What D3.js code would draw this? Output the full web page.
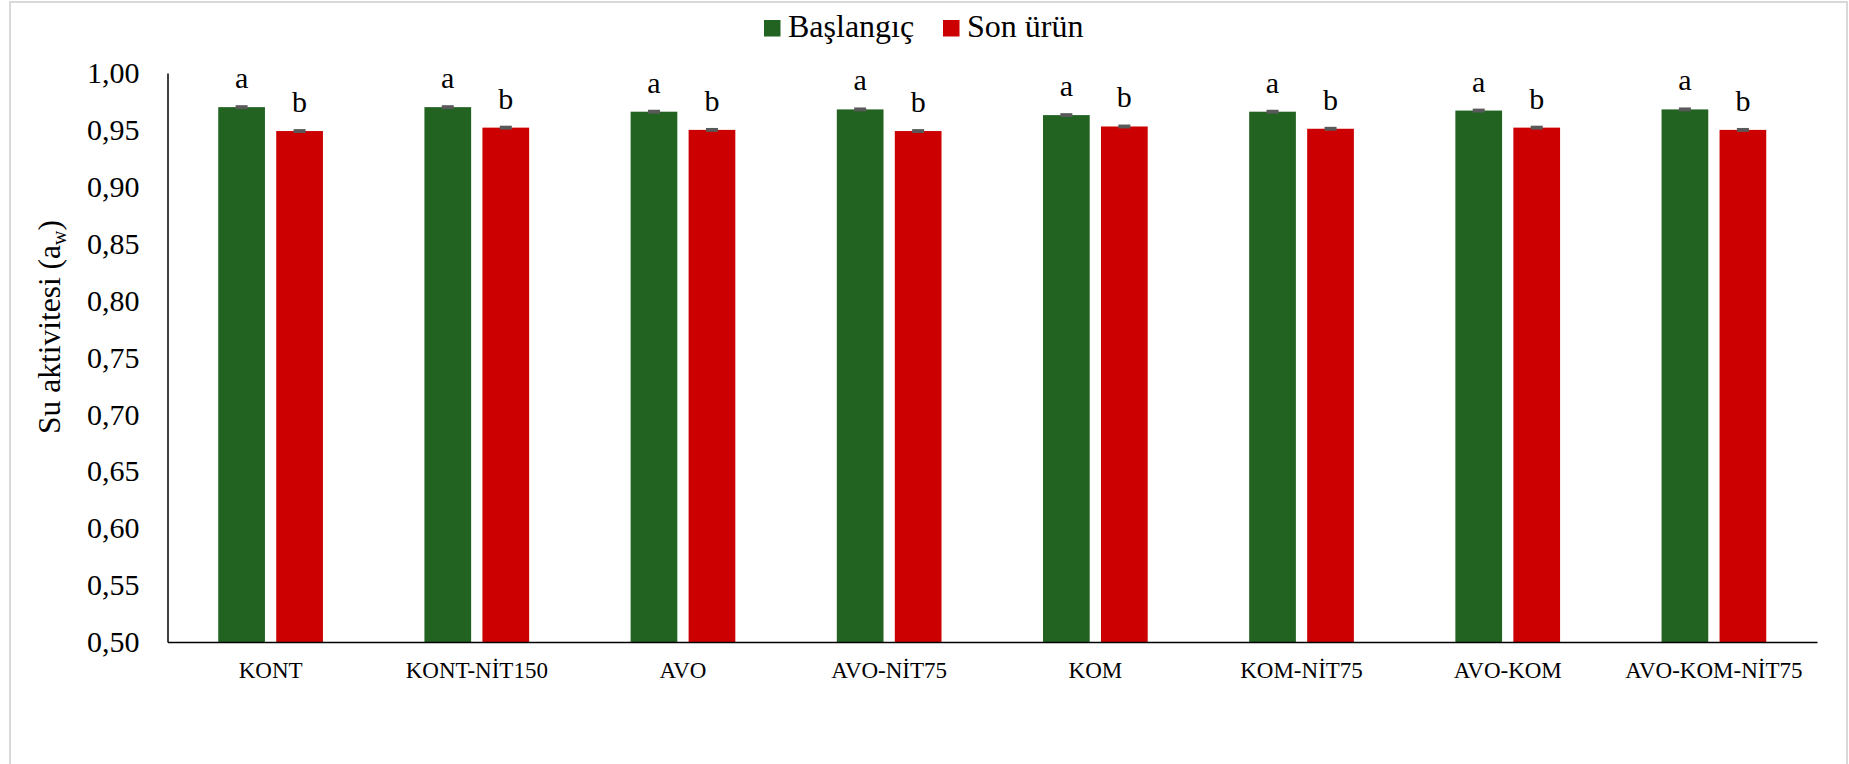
<!DOCTYPE html>
<html>
<head>
<meta charset="utf-8">
<script src="https://cdnjs.cloudflare.com/ajax/libs/d3/7.8.5/d3.min.js"></script>
<style>
  html, body { margin: 0; padding: 0; background: #fff; }
  svg { display: block; }
</style>
</head>
<body>
<script>
// ---- data ----
const categories = ["KONT", "KONT-NİT150", "AVO", "AVO-NİT75", "KOM", "KOM-NİT75", "AVO-KOM", "AVO-KOM-NİT75"];
const seriesNames = ["Başlangıç", "Son ürün"];
const baslangic = [0.970, 0.970, 0.966, 0.968, 0.963, 0.966, 0.967, 0.968];
const sonUrun   = [0.949, 0.952, 0.950, 0.949, 0.953, 0.951, 0.952, 0.950];
const errBaslangic = [0.001, 0.001, 0.001, 0.001, 0.001, 0.001, 0.001, 0.001];
const errSonUrun   = [0.001, 0.001, 0.001, 0.001, 0.001, 0.001, 0.001, 0.001];
const lettersBaslangic = ["a", "a", "a", "a", "a", "a", "a", "a"];
const lettersSonUrun   = ["b", "b", "b", "b", "b", "b", "b", "b"];
const yTicks = [0.50, 0.55, 0.60, 0.65, 0.70, 0.75, 0.80, 0.85, 0.90, 0.95, 1.00];
const colors = ["#226322", "#CC0000"];

// ---- layout ----
const W = 1849, H = 764;
const FONT = "Liberation Serif";
const plot = { left: 167.5, right: 1817, top: 73, bottom: 642 };
const barW = 46.7, gap = 11.3;

const svg = d3.select("body").append("svg").attr("width", W).attr("height", H)
  .style("font-family", FONT);

// outer border
svg.append("rect").attr("x", 10).attr("y", 2).attr("width", 1837).attr("height", 780)
  .attr("fill", "#fff").attr("stroke", "#d9d9d9").attr("stroke-width", 2);

const x = d3.scaleBand().domain(categories).range([plot.left, plot.right]).padding(0);
const y = d3.scaleLinear().domain([0.5, 1.0]).range([plot.bottom, plot.top]);

const series = [
  { name: seriesNames[0], values: baslangic, err: errBaslangic, letters: lettersBaslangic, color: colors[0], off: -(gap / 2 + barW) },
  { name: seriesNames[1], values: sonUrun, err: errSonUrun, letters: lettersSonUrun, color: colors[1], off: gap / 2 }
];

// bars
series.forEach(s => {
  const g = svg.append("g");
  const data = categories.map((c, i) => ({ c, v: s.values[i], e: s.err[i], l: s.letters[i] }));
  g.selectAll("rect.bar").data(data).join("rect").attr("class", "bar")
    .attr("x", d => x(d.c) + x.bandwidth() / 2 + s.off)
    .attr("y", d => y(d.v))
    .attr("width", barW)
    .attr("height", d => y(0.5) - y(d.v))
    .attr("fill", s.color);
  const cx = d => x(d.c) + x.bandwidth() / 2 + s.off + barW / 2;
  g.selectAll("rect.cap").data(data).join("rect").attr("class", "cap")
    .attr("x", d => cx(d) - 6)
    .attr("y", d => y(d.v + d.e) - 0.8)
    .attr("width", 12)
    .attr("height", d => y(d.v - d.e) - y(d.v + d.e) + 1.6)
    .attr("fill", "#595959");
  g.selectAll("text").data(data).join("text")
    .attr("x", cx)
    .attr("y", d => y(d.v) - 19)
    .attr("text-anchor", "middle")
    .style("font-family", FONT)
    .style("font-size", "30px")
    .attr("fill", "#000")
    .text(d => d.l);
});

// y axis
const yAxis = d3.axisLeft(y).tickValues(yTicks).tickSize(0).tickPadding(28)
  .tickFormat(d => d3.format(".2f")(d).replace(".", ","));
const gy = svg.append("g").attr("transform", `translate(${plot.left},0)`).call(yAxis);
gy.attr("font-family", null).attr("font-size", null);
gy.select(".domain").attr("stroke", "#000").attr("stroke-width", 1.5);
gy.selectAll("text").style("font-family", FONT).style("font-size", "30px").attr("fill", "#000");

// x axis
const xAxis = d3.axisBottom(x).tickSize(0).tickPadding(20);
const gx = svg.append("g").attr("transform", `translate(0,${plot.bottom})`).call(xAxis);
gx.attr("font-family", null).attr("font-size", null);
gx.select(".domain").attr("stroke", "#000").attr("stroke-width", 1.5);
gx.selectAll("text").style("font-family", FONT).style("font-size", "23px").attr("fill", "#000");

// y axis title
const title = svg.append("text")
  .attr("transform", "translate(60,327) rotate(-90)")
  .attr("text-anchor", "middle")
  .style("font-family", FONT)
  .style("font-size", "31.5px")
  .attr("fill", "#000");
title.append("tspan").text("Su aktivitesi (a");
title.append("tspan").style("font-size", "20px").attr("dy", 6).text("w");
title.append("tspan").attr("dy", -6).text(")");

// legend
const legend = svg.append("g");
const legX = [764, 943];
series.forEach((s, i) => {
  legend.append("rect").attr("x", legX[i]).attr("y", 20).attr("width", 16.5).attr("height", 16.5).attr("fill", s.color);
  legend.append("text").attr("x", legX[i] + 24).attr("y", 36.5)
    .style("font-family", FONT).style("font-size", "32px").attr("fill", "#000").text(s.name);
});
</script>
</body>
</html>
